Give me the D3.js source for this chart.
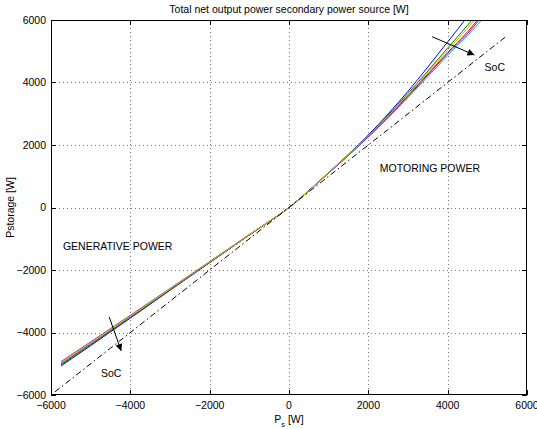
<!DOCTYPE html>
<html><head><meta charset="utf-8">
<script src="https://cdn.jsdelivr.net/npm/d3@7"></script>
<style>
body{margin:0;background:#fff;}
svg{display:block;font-family:"Liberation Sans",Arial,Helvetica,sans-serif;}
</style></head>
<body><svg id="c" width="537" height="429"></svg>
<script>
// ---- data ----
const psGrid   = [-5750,-5000,-4000,-3000,-2000,-1000,0,1000,2000,3000,4000,4500,5000];
const blueS    = [-5072,-4420,-3540,-2650,-1766,-880,0,1120,2320,3720,5300,6110,7000];
const greenS   = [-5040,-4395,-3522,-2638,-1758,-876,0,1115,2300,3650,5100,5830,6600];
const redS     = [-5010,-4370,-3505,-2626,-1750,-873,0,1105,2275,3580,4960,5620,6380];
const cyanS    = [-4985,-4350,-3490,-2615,-1744,-870,0,1100,2250,3520,4860,5500,6200];
const magentaS = [-4934,-4300,-3450,-2590,-1730,-865,0,1102,2262,3550,4920,5560,6330];
const yellowS  = [-4960,-4325,-3470,-2602,-1737,-868,0,1110,2285,3610,5030,5740,6500];
const seriesNames  = ["blue","green","red","cyan","magenta","yellow"];
const seriesValues = [blueS, greenS, redS, cyanS, magentaS, yellowS];
const seriesColors = ["#0000ff","#008000","#ff0000","#00bfbf","#bf00bf","#bfbf00"];
const refLineX = [-5900, 5450];          // dash-dot line P = Ps
const xTicks = [-6000,-4000,-2000,0,2000,4000,6000];
const yTicks = [-6000,-4000,-2000,0,2000,4000,6000];
const titleText = "Total net output power secondary power source [W]";
const yLabelText = "Pstorage [W]";
const annotations = [
  {text:"MOTORING POWER",   x:2290,  y:1264},
  {text:"GENERATIVE POWER", x:-5700, y:-1232},
  {text:"SoC", x:4930,  y:4496},
  {text:"SoC", x:-4740, y:-5296}
];
const arrows = [
  {x1:3608, y1:5466, x2:4675, y2:4880},
  {x1:-4532,y1:-3504,x2:-4230,y2:-4592}
];

// ---- layout ----
const W=537,H=429, m={l:51,r:10,t:20,b:34};
const svg=d3.select("#c");
const x=d3.scaleLinear().domain([-6000,6000]).range([m.l,W-m.r]);
const y=d3.scaleLinear().domain([-6000,6000]).range([H-m.b,m.t]);
const fs=10.5;
const fmt=d=>(d<0?"\u2212":"")+Math.abs(d);

svg.append("defs").append("clipPath").attr("id","clp").append("rect")
  .attr("x",m.l).attr("y",m.t).attr("width",W-m.l-m.r).attr("height",H-m.t-m.b);
svg.select("defs").append("marker").attr("id","ah").attr("viewBox","0 0 10 10")
  .attr("refX",10).attr("refY",5).attr("markerWidth",9).attr("markerHeight",7)
  .attr("markerUnits","userSpaceOnUse").attr("orient","auto")
  .append("path").attr("d","M0,0L10,5L0,10z").attr("fill","#000");

// grid
const g=svg.append("g").attr("stroke","#777").attr("stroke-width",1).attr("stroke-dasharray","1,3");
xTicks.slice(1,-1).forEach(t=>g.append("line").attr("x1",Math.round(x(t))+0.5).attr("x2",Math.round(x(t))+0.5).attr("y1",m.t).attr("y2",H-m.b));
yTicks.slice(1,-1).forEach(t=>g.append("line").attr("y1",Math.round(y(t))+0.5).attr("y2",Math.round(y(t))+0.5).attr("x1",m.l).attr("x2",W-m.r));

// axes with inward ticks
const tl=5;
const ax=svg.append("g").attr("stroke","#000").attr("stroke-width",1);
xTicks.forEach(t=>{const px=Math.round(x(t))+0.5;
  ax.append("line").attr("x1",px).attr("x2",px).attr("y1",H-m.b).attr("y2",H-m.b-tl);
  ax.append("line").attr("x1",px).attr("x2",px).attr("y1",m.t).attr("y2",m.t+tl);});
yTicks.forEach(t=>{const py=Math.round(y(t))+0.5;
  ax.append("line").attr("y1",py).attr("y2",py).attr("x1",m.l).attr("x2",m.l+tl);
  ax.append("line").attr("y1",py).attr("y2",py).attr("x1",W-m.r).attr("x2",W-m.r-tl);});

// curves
const line=d3.line().x(d=>x(d[0])).y(d=>y(d[1])).curve(d3.curveMonotoneX);
const cg=svg.append("g").attr("clip-path","url(#clp)");
seriesValues.forEach((vals,i)=>{
  cg.append("path").datum(psGrid.map((p,j)=>[p,vals[j]]))
    .attr("fill","none").attr("stroke",seriesColors[i]).attr("stroke-width",1).attr("d",line);
});
cg.append("path").datum(refLineX.map(v=>[v,v])).attr("fill","none").attr("stroke","#000")
  .attr("stroke-width",1).attr("stroke-dasharray","6,3,1.5,3").attr("d",d3.line().x(d=>x(d[0])).y(d=>y(d[1])));

// box
svg.append("rect").attr("x",m.l+0.5).attr("y",m.t+0.5).attr("width",W-m.l-m.r-1).attr("height",H-m.t-m.b-1)
  .attr("fill","none").attr("stroke","#000").attr("stroke-width",1);

// tick labels
const tx=svg.append("g").attr("font-size",fs).attr("fill","#000");
xTicks.forEach(t=>tx.append("text").attr("x",x(t)).attr("y",409).attr("text-anchor","middle").text(fmt(t)));
yTicks.forEach(t=>tx.append("text").attr("x",m.l-5).attr("y",y(t)).attr("dy","0.36em").attr("text-anchor","end").text(fmt(t)));

// title & labels
svg.append("text").attr("x",(m.l+W-m.r)/2).attr("y",12.5).attr("text-anchor","middle").attr("font-size",fs).text(titleText);
const xl=svg.append("text").attr("x",(m.l+W-m.r)/2).attr("y",423).attr("text-anchor","middle").attr("font-size",fs);
xl.append("tspan").text("P");
xl.append("tspan").attr("font-size",fs*0.7).attr("dy",3.5).text("s");
xl.append("tspan").attr("dy",-3.5).text(" [W]");
svg.append("text").attr("transform",`translate(13.5,${(m.t+H-m.b)/2}) rotate(-90)`).attr("text-anchor","middle").attr("font-size",fs).text(yLabelText);

// annotations
annotations.forEach(a=>svg.append("text").attr("x",x(a.x)).attr("y",y(a.y)).attr("dy","0.36em").attr("font-size",fs).text(a.text));
arrows.forEach(a=>svg.append("line").attr("x1",x(a.x1)).attr("y1",y(a.y1)).attr("x2",x(a.x2)).attr("y2",y(a.y2))
  .attr("stroke","#000").attr("stroke-width",1).attr("marker-end","url(#ah)"));
</script></body></html>
